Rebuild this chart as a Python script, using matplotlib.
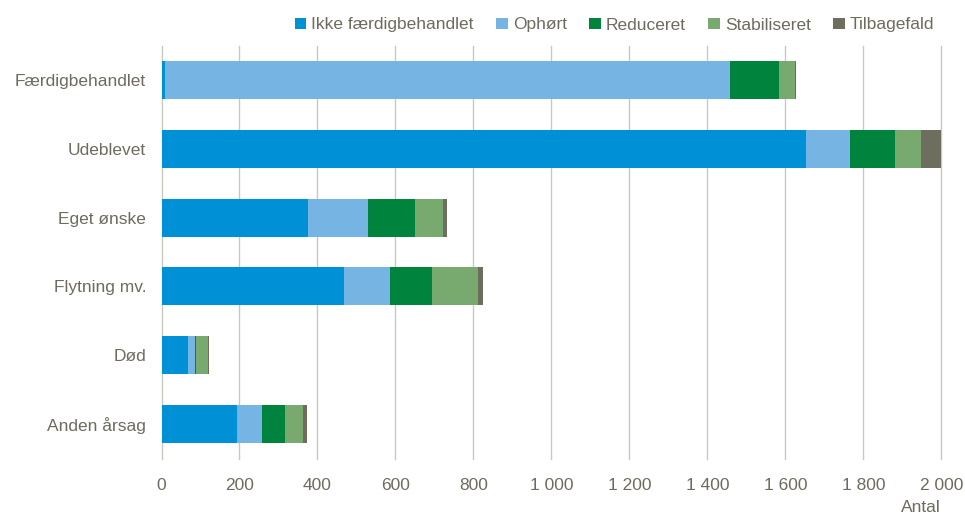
import matplotlib
matplotlib.use("Agg")
import matplotlib.pyplot as plt
import numpy as np
from matplotlib import font_manager

fams = {f.name for f in font_manager.fontManager.ttflist}
fam = 'Liberation Sans Narrow' if 'Liberation Sans Narrow' in fams else 'Liberation Sans'
plt.rcParams['font.family'] = [fam, 'DejaVu Sans']

categories = ["Færdigbehandlet", "Udeblevet", "Eget ønske", "Flytning mv.", "Død", "Anden årsag"]
series_names = ["Ikke færdigbehandlet", "Ophørt", "Reduceret", "Stabiliseret", "Tilbagefald"]
ikke = [8, 1653, 376, 468, 67, 194]
ophort = [1450, 113, 154, 119, 19, 64]
reduceret = [125, 115, 120, 107, 3, 60]
stabiliseret = [43, 68, 73, 117, 31, 45]
tilbagefald = [2, 51, 9, 13, 1, 9]
xticks = [0, 200, 400, 600, 800, 1000, 1200, 1400, 1600, 1800, 2000]
xticklabels = ["0", "200", "400", "600", "800", "1 000", "1 200", "1 400", "1 600", "1 800", "2 000"]

colors = ["#0090D5", "#76B5E3", "#00843D", "#78A96E", "#6E6E5E"]
text_color = "#6E6B5E"

fig = plt.figure(figsize=(9.65, 5.17), dpi=100)
ax = fig.add_axes([161.5/965, 1-458.5/517, (941.3-161.5)/965, (458.5-45.5)/517])

y = np.arange(len(categories))
left = np.zeros(len(categories))
for name, vals, c in zip(series_names, [ikke, ophort, reduceret, stabiliseret, tilbagefald], colors):
    ax.barh(y, vals, left=left, height=0.55, color=c, label=name, edgecolor='none', zorder=3)
    left += np.array(vals)

ax.set_ylim(len(categories)-0.5, -0.5)
ax.set_xlim(0, 2000)
ax.set_xticks(xticks)
ax.set_xticklabels(xticklabels)
ax.set_yticks(y)
ax.set_yticklabels(categories)
ax.tick_params(axis='both', length=0, colors=text_color, labelsize=12.5)
ax.tick_params(axis='x', pad=14)
ax.tick_params(axis='y', pad=11)
for s in ax.spines.values():
    s.set_visible(False)
ax.grid(axis='x', color='#C9C8C0', linewidth=1.0, zorder=0)
for gl in ax.get_xgridlines():
    gl.set_clip_on(False)
ax.set_axisbelow(True)

fig.text(941/965, 1-508/517, "Antal", ha='right', va='center', color=text_color, fontsize=12.5)

leg = fig.legend(loc='center right', bbox_to_anchor=(950/965, 1-25/517), ncol=5, frameon=False,
                 fontsize=12.5, handlelength=0.65, handleheight=0.65, handletextpad=0.3, columnspacing=1.3,
                 labelcolor=text_color)
fig.savefig("out.png", dpi=100)
